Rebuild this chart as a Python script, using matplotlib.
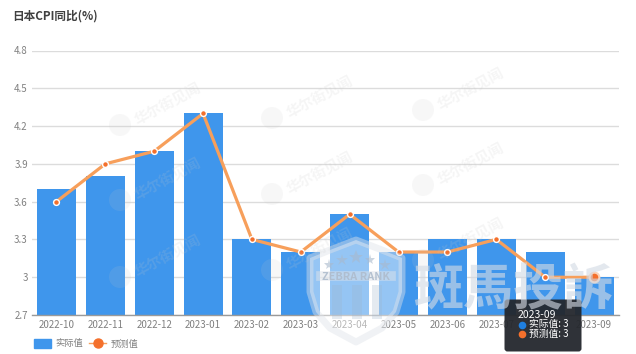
import matplotlib
matplotlib.use('Agg')
import matplotlib.pyplot as plt
from matplotlib.lines import Line2D
from matplotlib.patches import FancyBboxPatch, Polygon, Circle, Rectangle, Patch

plt.rcParams['font.family'] = ['Noto Sans CJK SC', 'DejaVu Sans']

W, H = 636, 354

months = ['2022-10', '2022-11', '2022-12', '2023-01', '2023-02', '2023-03',
          '2023-04', '2023-05', '2023-06', '2023-07', '2023-08', '2023-09']
actual = [3.7, 3.8, 4.0, 4.3, 3.3, 3.2, 3.5, 3.2, 3.3, 3.3, 3.2, 3.0]
forecast = [3.6, 3.9, 4.0, 4.3, 3.3, 3.2, 3.5, 3.2, 3.2, 3.3, 3.0, 3.0]
y_ticks = [2.7, 3.0, 3.3, 3.6, 3.9, 4.2, 4.5, 4.8]
y_labels = ['2.7', '3', '3.3', '3.6', '3.9', '4.2', '4.5', '4.8']

BLUE = '#3f96ec'
ORANGE = '#f79f5b'
DOT = '#f4702c'
GREY = '#808080'

fig = plt.figure(figsize=(W / 100, H / 100), dpi=100)

# pixel sized main axes
ax = fig.add_axes([32 / W, 1 - 315 / H, 586.5 / W, (315 - 50.5) / H])
ax.set_xlim(-0.5, 11.5)
ax.set_ylim(2.7, 4.8)

ax.bar(range(len(months)), actual, width=0.8, color=BLUE, zorder=2)
ax.plot(range(len(months)), forecast, color=ORANGE, lw=2.3, zorder=3)
ax.plot(range(len(months)), forecast, ls='none', marker='o', ms=4.2, mfc=DOT, mec='white', mew=1.0, zorder=4)
ax.plot(11, forecast[-1], marker='o', ms=7, mfc=DOT, mec='#fbd3b8', mew=1.5, zorder=5)

ax.set_yticks(y_ticks)
ax.set_yticklabels(y_labels)
ax.set_xticks(range(len(months)))
ax.set_xticklabels(months)
ax.tick_params(axis='both', length=0, labelsize=7, labelcolor=GREY)
ax.tick_params(axis='x', pad=3.5)
ax.tick_params(axis='y', pad=3)
ax.grid(axis='y', color='#dcdcdc', lw=1, zorder=0)
ax.set_axisbelow(True)
for side in ['top', 'right', 'left']:
    ax.spines[side].set_visible(False)
ax.spines['bottom'].set_color('#9a9a9a')
ax.spines['bottom'].set_linewidth(1)

fig.text(12 / W, 1 - 16.5 / H, '日本CPI同比(%)', fontsize=8.4, fontweight='bold',
         color='#404040', va='center', ha='left')

handles = [Patch(fc=BLUE, ec=BLUE, label='实际值'),
           Line2D([], [], color=ORANGE, lw=1, marker='o', ms=6.5, mfc=DOT, mec=DOT, label='预测值')]
ax.legend(handles=handles, loc='lower left', bbox_to_anchor=(27 / W, 1 - 355 / H), bbox_transform=fig.transFigure,
          ncol=2, frameon=False, fontsize=6.7, labelcolor=GREY, handlelength=1.9, handleheight=1.2,
          handletextpad=0.45, columnspacing=0.6, borderpad=0.2)

# overlay in pixel coords for watermarks and tooltip
ov = fig.add_axes([0, 0, 1, 1], zorder=5)
ov.set_xlim(0, W)
ov.set_ylim(H, 0)
ov.axis('off')
ov.patch.set_alpha(0)

for lx, ly in [(120, 125), (272, 118), (423, 110), (120, 200), (272, 194), (423, 185),
               (120, 277), (272, 270), (423, 260)]:
    ov.add_patch(Circle((lx, ly), 11, color='#c8c8c8', alpha=0.13, lw=0))
    ov.text(lx + 15, ly - 4, '华尔街见闻', fontsize=10.5, rotation=28, color='#c8c8c8', alpha=0.17,
            va='center', ha='left', rotation_mode='anchor', fontweight='bold')

# zebra rank shield
shield = [(310, 258), (330, 250), (356, 240), (382, 250), (402, 258), (402, 292), (396, 312),
          (382, 328), (356, 342), (330, 328), (316, 312), (310, 292)]
ov.add_patch(Polygon(shield, closed=True, fc='white', ec='#dfe3e9', lw=5, alpha=0.45, joinstyle='round'))
for sx in [332, 352, 372]:
    ov.add_patch(Rectangle((sx, 285), 10, 34, fc='#9fb4cc', alpha=0.28, lw=0))
for sx, sy, sz in [(329, 265, 8), (342, 260, 9), (356, 257, 10), (370, 260, 8), (385, 265, 9)]:
    ov.plot(sx, sy, marker='*', ms=sz, color='#a9b9cc', alpha=0.6, mew=0)
ov.plot([321, 391], [276, 276], color='#dfe3e9', lw=7, alpha=0.5)
ov.text(356, 276.5, 'ZEBRA RANK', fontsize=7.8, fontweight='bold', color='#aebccd', alpha=0.9,
        ha='center', va='center')

# tooltip
ov.add_patch(FancyBboxPatch((504.5, 299.5), 77, 52, boxstyle='round,pad=0,rounding_size=3', fc='#24272d',
                            ec='none', lw=0, alpha=0.95, zorder=6))
ov.text(518, 315, months[-1], fontsize=7.5, color='white', va='center', ha='left', zorder=7)
ov.plot(522, 324.5, 'o', ms=5.5, color='#1f7fe0', mew=0, zorder=7)
ov.plot(522, 334, 'o', ms=5.5, color=DOT, mew=0, zorder=7)
ov.text(529, 324.5, '实际值: 3', fontsize=7, color='white', va='center', ha='left', zorder=7)
ov.text(529, 334, '预测值: 3', fontsize=7, color='white', va='center', ha='left', zorder=7)

ov.text(513.5, 291, '斑馬投訴', fontsize=36, color='#d3dae4', alpha=0.62, ha='center', va='center',
        fontweight='bold', zorder=8)

fig.savefig('out.png', dpi=100)
plt.close()
